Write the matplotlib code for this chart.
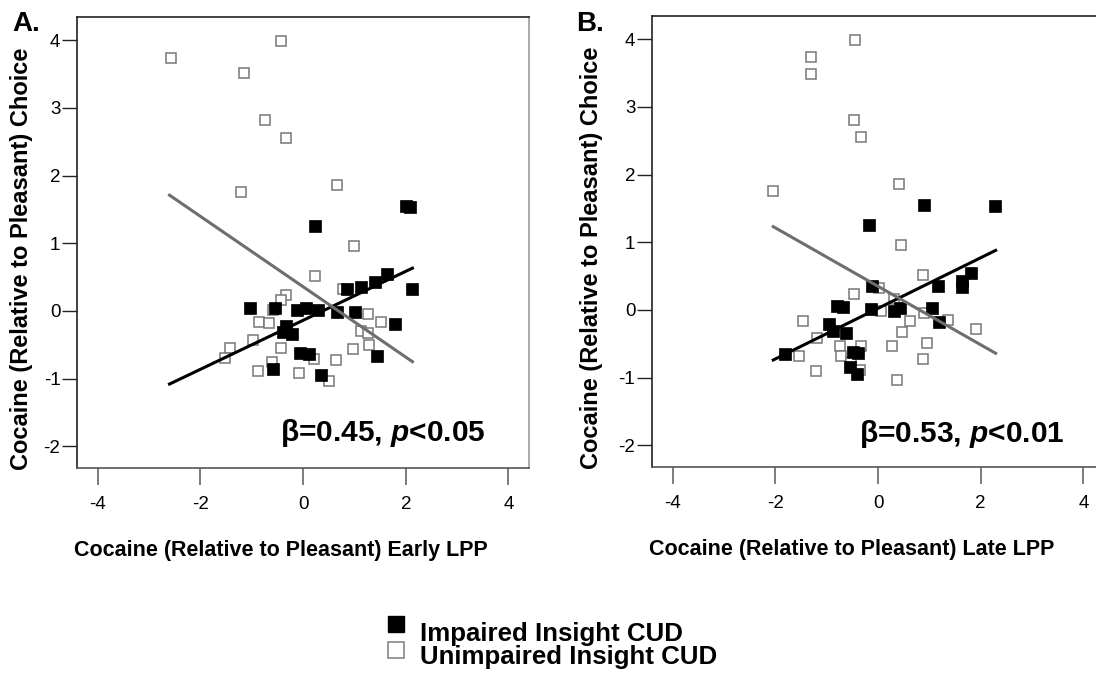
import numpy as np
import matplotlib
matplotlib.use("Agg")
import matplotlib.pyplot as plt
from matplotlib.lines import Line2D

plt.rcParams['font.family'] = ['Liberation Sans', 'DejaVu Sans']
plt.rcParams['mathtext.fontset'] = 'custom'
plt.rcParams['mathtext.it'] = 'Liberation Sans:italic:bold'
plt.rcParams['mathtext.rm'] = 'Liberation Sans:bold'

# ---- panel A: early LPP ----
a_unimp_x = [-2.58, -0.43, -1.15, -0.74, -0.33, -1.20, 0.66, 0.99, 0.23, 0.78, -0.34,
             -0.43, -0.58, -0.85, -0.67, -0.97, -1.43, -1.51, -0.43, -0.60, -0.87, -0.08,
             0.21, 0.64, 0.51, 0.98, 1.28, 1.12, 1.26, 1.27, 1.52]
a_unimp_y = [3.74, 3.99, 3.51, 2.82, 2.55, 1.76, 1.86, 0.96, 0.51, 0.32, 0.23,
             0.16, 0.01, -0.17, -0.18, -0.43, -0.55, -0.69, -0.55, -0.75, -0.88, -0.91,
             -0.71, -0.72, -1.03, -0.56, -0.50, -0.30, -0.33, -0.04, -0.17]
a_imp_x = [0.23, 2.01, 2.08, 1.64, 1.40, 1.12, 0.86, 2.12, -1.04, -0.55, -0.11, 0.05,
           0.30, 0.67, 1.02, 1.79, -0.33, -0.39, -0.21, -0.06, 0.12, 1.44, -0.58, 0.34]
a_imp_y = [1.26, 1.55, 1.54, 0.54, 0.42, 0.36, 0.33, 0.33, 0.04, 0.05, 0.02, 0.05,
           0.02, -0.01, -0.02, -0.19, -0.22, -0.31, -0.34, -0.62, -0.64, -0.66, -0.86, -0.95]
# fit lines (slope, intercept), drawn over x range
a_imp_fit = (0.362, -0.139)
a_unimp_fit = (-0.520, 0.358)
a_fit_range = (-2.6, 2.13)

# ---- panel B: late LPP ----
b_unimp_x = [-0.45, -1.31, -1.31, -0.47, -0.33, -2.04, 0.41, 0.45, 0.87, -0.47, 0.02,
             0.32, 0.05, 0.89, 1.37, 1.90, 0.62, 0.47, -1.47, -1.18, -1.53, -1.21,
             -0.74, -0.72, -0.53, -0.33, -0.36, 0.28, 0.96, 0.87, 0.37]
b_unimp_y = [3.98, 3.73, 3.49, 2.81, 2.55, 1.75, 1.86, 0.96, 0.51, 0.23, 0.33,
             0.16, -0.01, -0.04, -0.15, -0.28, -0.17, -0.33, -0.17, -0.42, -0.68, -0.90,
             -0.54, -0.68, -0.77, -0.54, -0.88, -0.54, -0.49, -0.72, -1.03]
b_imp_x = [-0.18, 0.90, 2.28, 1.82, 1.63, 1.63, 1.16, -0.11, -0.80, -0.69, -0.14, 0.32,
           0.42, 1.06, 1.19, -0.96, -0.87, -0.63, -1.82, -0.49, -0.39, -0.55, -0.41]
b_imp_y = [1.25, 1.55, 1.53, 0.54, 0.43, 0.34, 0.35, 0.35, 0.06, 0.04, 0.02, -0.01,
           0.03, 0.03, -0.18, -0.21, -0.31, -0.34, -0.65, -0.62, -0.63, -0.85, -0.94]
b_imp_fit = (0.374, 0.023)
b_unimp_fit = (-0.432, 0.349)
b_fit_range = (-2.04, 2.29)

ylabel = "Cocaine (Relative to Pleasant) Choice"
xlabels = ["Cocaine (Relative to Pleasant) Early LPP", "Cocaine (Relative to Pleasant) Late LPP"]
stats = [r"β=0.45, $p$<0.05", r"β=0.53, $p$<0.01"]
panel_tags = ["A.", "B."]
legend_labels = ["Impaired Insight CUD", "Unimpaired Insight CUD"]

fig = plt.figure(figsize=(10.96, 6.73), dpi=100)
axA = fig.add_axes([0.0703, 0.3046, 0.4124, 0.670])
axB = fig.add_axes([0.5949, 0.3061, 0.4124, 0.670])

panels = [
    (axA, a_unimp_x, a_unimp_y, a_imp_x, a_imp_y, a_imp_fit, a_unimp_fit, a_fit_range),
    (axB, b_unimp_x, b_unimp_y, b_imp_x, b_imp_y, b_imp_fit, b_unimp_fit, b_fit_range),
]
ylab_x = [-0.097, -0.108]
xlab_x = [0.451, 0.442]
stat_pos = [(0.677, 0.060), (0.685, 0.055)]

for i, (ax, ux, uy, ix, iy, ifit, ufit, xr) in enumerate(panels):
    ax.plot(ux, uy, 's', ms=7.2, mfc='white', mec='#777777', mew=1.1, ls='none', zorder=2)
    ax.plot(ix, iy, 's', ms=8.0, mfc='black', mec='black', mew=0.5, ls='none', zorder=3)
    xs = np.array(xr)
    ax.plot(xs, ifit[0] * xs + ifit[1], color='black', lw=2.2, zorder=4)
    ax.plot(xs, ufit[0] * xs + ufit[1], color='#6e6e6e', lw=2.2, zorder=4)

    ax.set_xlim(-4.4, 4.4)
    ax.set_ylim(-2.32, 4.34)
    ax.set_xticks([-4, -2, 0, 2, 4])
    ax.set_yticks([-2, -1, 0, 1, 2, 3, 4])
    ax.set_xticklabels(['-4', '-2', '0', '2', '4'])
    ax.set_yticklabels(['-2', '-1', '0', '1', '2', '3', '4'])
    ax.tick_params(axis='y', length=11, width=1, color='#222222', labelsize=13.5, pad=1)
    ax.tick_params(axis='x', length=12, width=1.2, color='#666666', labelsize=13.5, pad=8)
    ax.spines['left'].set_color('#222222')
    ax.spines['top'].set_color('#222222')
    ax.spines['bottom'].set_color('#555555')
    ax.spines['right'].set_color('#999999')
    for s in ax.spines.values():
        s.set_linewidth(1.2)

    ax.set_ylabel(ylabel, fontsize=17, fontweight='bold')
    ax.yaxis.set_label_coords(ylab_x[i], 0.463)
    ax.set_xlabel(xlabels[i], fontsize=15.5, fontweight='bold')
    ax.xaxis.set_label_coords(xlab_x[i], -0.160)
    ax.text(stat_pos[i][0], stat_pos[i][1], stats[i], transform=ax.transAxes,
            ha='center', va='baseline', fontsize=21.5, fontweight='bold')

fig.text(0.011, 0.965, panel_tags[0], fontsize=20, fontweight='bold', ha='left', va='center')
fig.text(0.526, 0.965, panel_tags[1], fontsize=20, fontweight='bold', ha='left', va='center')

# legend drawn by hand: marker rows and text rows are offset as in the original
W, H = 1096.0, 673.0
fig.add_artist(Line2D([396 / W], [1 - 623.5 / H], transform=fig.transFigure, marker='s',
                      ms=11.5, mfc='black', mec='black', ls='none'))
fig.add_artist(Line2D([396 / W], [1 - 649.5 / H], transform=fig.transFigure, marker='s',
                      ms=11.5, mfc='white', mec='#888888', mew=1.2, ls='none'))
fig.text(420 / W, 1 - 641 / H, legend_labels[0], fontsize=18.6, fontweight='bold',
         ha='left', va='baseline')
fig.text(420 / W, 1 - 664 / H, legend_labels[1], fontsize=18.6, fontweight='bold',
         ha='left', va='baseline')

fig.savefig("out.png", dpi=100)
